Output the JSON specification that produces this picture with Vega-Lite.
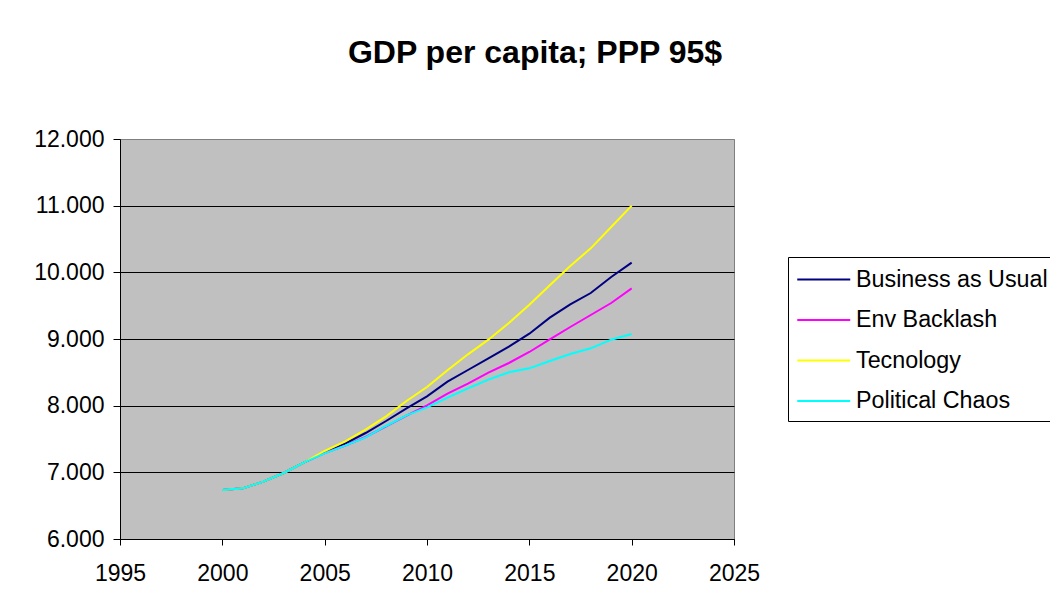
{
  "$schema": "https://vega.github.io/schema/vega-lite/v6.json",
  "width": 614,
  "height": 400,
  "autosize": {"type": "none"},
  "padding": {"left": 120, "top": 139, "right": 316, "bottom": 75},
  "background": "white",
  "title": {
    "text": "GDP per capita; PPP 95$",
    "font": "Liberation Sans",
    "fontSize": 32,
    "fontWeight": "bold",
    "color": "black",
    "anchor": "middle",
    "frame": "group",
    "dx": 108,
    "offset": 33,
    "baseline": "alphabetic"
  },
  "config": {
    "font": "Liberation Sans",
    "view": {"stroke": "#808080", "strokeWidth": 1, "fill": "#C0C0C0"}
  },
  "data": {
    "values": [
      {"series": "Business as Usual", "year": 2000, "gdp": 6735},
      {"series": "Business as Usual", "year": 2001, "gdp": 6760},
      {"series": "Business as Usual", "year": 2002, "gdp": 6860},
      {"series": "Business as Usual", "year": 2003, "gdp": 6990},
      {"series": "Business as Usual", "year": 2004, "gdp": 7150},
      {"series": "Business as Usual", "year": 2005, "gdp": 7300},
      {"series": "Business as Usual", "year": 2006, "gdp": 7430},
      {"series": "Business as Usual", "year": 2007, "gdp": 7590},
      {"series": "Business as Usual", "year": 2008, "gdp": 7770},
      {"series": "Business as Usual", "year": 2009, "gdp": 7960},
      {"series": "Business as Usual", "year": 2010, "gdp": 8140},
      {"series": "Business as Usual", "year": 2011, "gdp": 8360},
      {"series": "Business as Usual", "year": 2012, "gdp": 8535},
      {"series": "Business as Usual", "year": 2013, "gdp": 8710},
      {"series": "Business as Usual", "year": 2014, "gdp": 8885},
      {"series": "Business as Usual", "year": 2015, "gdp": 9080},
      {"series": "Business as Usual", "year": 2016, "gdp": 9320},
      {"series": "Business as Usual", "year": 2017, "gdp": 9520},
      {"series": "Business as Usual", "year": 2018, "gdp": 9690},
      {"series": "Business as Usual", "year": 2019, "gdp": 9930},
      {"series": "Business as Usual", "year": 2020, "gdp": 10145},
      {"series": "Env Backlash", "year": 2000, "gdp": 6735},
      {"series": "Env Backlash", "year": 2001, "gdp": 6760},
      {"series": "Env Backlash", "year": 2002, "gdp": 6860},
      {"series": "Env Backlash", "year": 2003, "gdp": 6990},
      {"series": "Env Backlash", "year": 2004, "gdp": 7150},
      {"series": "Env Backlash", "year": 2005, "gdp": 7290},
      {"series": "Env Backlash", "year": 2006, "gdp": 7400},
      {"series": "Env Backlash", "year": 2007, "gdp": 7530},
      {"series": "Env Backlash", "year": 2008, "gdp": 7690},
      {"series": "Env Backlash", "year": 2009, "gdp": 7850},
      {"series": "Env Backlash", "year": 2010, "gdp": 8005},
      {"series": "Env Backlash", "year": 2011, "gdp": 8180},
      {"series": "Env Backlash", "year": 2012, "gdp": 8330},
      {"series": "Env Backlash", "year": 2013, "gdp": 8495},
      {"series": "Env Backlash", "year": 2014, "gdp": 8640},
      {"series": "Env Backlash", "year": 2015, "gdp": 8805},
      {"series": "Env Backlash", "year": 2016, "gdp": 8995},
      {"series": "Env Backlash", "year": 2017, "gdp": 9180},
      {"series": "Env Backlash", "year": 2018, "gdp": 9360},
      {"series": "Env Backlash", "year": 2019, "gdp": 9540},
      {"series": "Env Backlash", "year": 2020, "gdp": 9760},
      {"series": "Tecnology", "year": 2000, "gdp": 6735},
      {"series": "Tecnology", "year": 2001, "gdp": 6760},
      {"series": "Tecnology", "year": 2002, "gdp": 6860},
      {"series": "Tecnology", "year": 2003, "gdp": 6990},
      {"series": "Tecnology", "year": 2004, "gdp": 7150},
      {"series": "Tecnology", "year": 2005, "gdp": 7320},
      {"series": "Tecnology", "year": 2006, "gdp": 7465},
      {"series": "Tecnology", "year": 2007, "gdp": 7640},
      {"series": "Tecnology", "year": 2008, "gdp": 7840},
      {"series": "Tecnology", "year": 2009, "gdp": 8070},
      {"series": "Tecnology", "year": 2010, "gdp": 8280},
      {"series": "Tecnology", "year": 2011, "gdp": 8530},
      {"series": "Tecnology", "year": 2012, "gdp": 8770},
      {"series": "Tecnology", "year": 2013, "gdp": 8990},
      {"series": "Tecnology", "year": 2014, "gdp": 9240},
      {"series": "Tecnology", "year": 2015, "gdp": 9515},
      {"series": "Tecnology", "year": 2016, "gdp": 9805},
      {"series": "Tecnology", "year": 2017, "gdp": 10095},
      {"series": "Tecnology", "year": 2018, "gdp": 10360},
      {"series": "Tecnology", "year": 2019, "gdp": 10680},
      {"series": "Tecnology", "year": 2020, "gdp": 11000},
      {"series": "Political Chaos", "year": 2000, "gdp": 6735},
      {"series": "Political Chaos", "year": 2001, "gdp": 6760},
      {"series": "Political Chaos", "year": 2002, "gdp": 6860},
      {"series": "Political Chaos", "year": 2003, "gdp": 6990},
      {"series": "Political Chaos", "year": 2004, "gdp": 7150},
      {"series": "Political Chaos", "year": 2005, "gdp": 7285},
      {"series": "Political Chaos", "year": 2006, "gdp": 7400},
      {"series": "Political Chaos", "year": 2007, "gdp": 7525},
      {"series": "Political Chaos", "year": 2008, "gdp": 7695},
      {"series": "Political Chaos", "year": 2009, "gdp": 7855},
      {"series": "Political Chaos", "year": 2010, "gdp": 7975},
      {"series": "Political Chaos", "year": 2011, "gdp": 8120},
      {"series": "Political Chaos", "year": 2012, "gdp": 8260},
      {"series": "Political Chaos", "year": 2013, "gdp": 8390},
      {"series": "Political Chaos", "year": 2014, "gdp": 8500},
      {"series": "Political Chaos", "year": 2015, "gdp": 8560},
      {"series": "Political Chaos", "year": 2016, "gdp": 8670},
      {"series": "Political Chaos", "year": 2017, "gdp": 8775},
      {"series": "Political Chaos", "year": 2018, "gdp": 8860},
      {"series": "Political Chaos", "year": 2019, "gdp": 8990},
      {"series": "Political Chaos", "year": 2020, "gdp": 9075}
    ]
  },
  "mark": {"type": "line", "strokeWidth": 2},
  "encoding": {
    "x": {
      "field": "year",
      "type": "quantitative",
      "scale": {"domain": [1995, 2025], "nice": false, "zero": false},
      "axis": {
        "title": null,
        "values": [1995, 2000, 2005, 2010, 2015, 2020, 2025],
        "format": "d",
        "grid": false,
        "domainColor": "black",
        "domainWidth": 1,
        "tickColor": "black",
        "tickSize": 6,
        "labelFont": "Liberation Sans",
        "labelFontSize": 23,
        "labelColor": "black",
        "labelPadding": 17,
        "labelFlush": false,
        "labelOverlap": false
      }
    },
    "y": {
      "field": "gdp",
      "type": "quantitative",
      "scale": {"domain": [6000, 12000], "nice": false, "zero": false},
      "axis": {
        "title": null,
        "values": [6000, 7000, 8000, 9000, 10000, 11000, 12000],
        "labelExpr": "replace(format(datum.value, ','), ',', '.')",
        "grid": true,
        "gridColor": {"condition": {"test": "datum.value === 12000", "value": "#808080"}, "value": "black"},
        "gridWidth": 1,
        "domainColor": "black",
        "domainWidth": 1,
        "tickColor": "black",
        "tickSize": 7,
        "labelFont": "Liberation Sans",
        "labelFontSize": 23,
        "labelColor": "black",
        "labelPadding": 9,
        "labelFlush": false,
        "labelOverlap": false
      }
    },
    "color": {
      "field": "series",
      "type": "nominal",
      "scale": {
        "domain": ["Business as Usual", "Env Backlash", "Tecnology", "Political Chaos"],
        "range": ["#000080", "#FF00FF", "#FFFF00", "#00FFFF"]
      },
      "legend": {
        "title": null,
        "orient": "none",
        "legendX": 668,
        "legendY": 118,
        "strokeColor": "black",
        "fillColor": "white",
        "padding": 8,
        "symbolType": "M-1,0H3",
        "symbolSize": 702,
        "symbolStrokeWidth": 2,
        "labelFont": "Liberation Sans",
        "labelFontSize": 23.3,
        "labelColor": "black",
        "labelOffset": 31,
        "labelLimit": 400,
        "rowPadding": 14.5
      }
    }
  }
}
